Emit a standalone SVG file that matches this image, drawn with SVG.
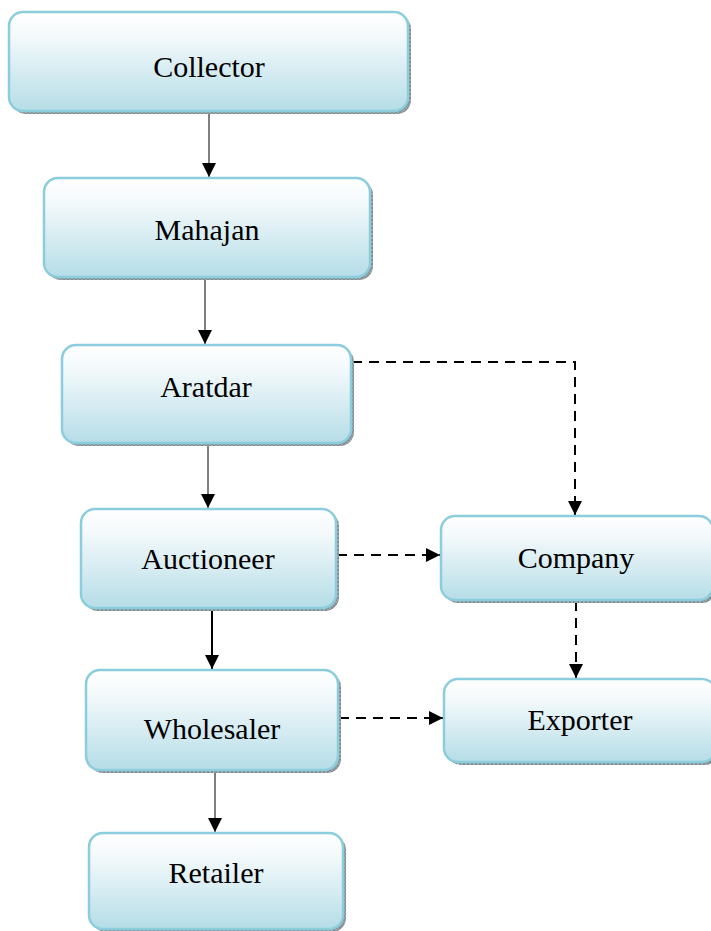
<svg xmlns="http://www.w3.org/2000/svg" width="711" height="931" viewBox="0 0 711 931">
  <defs>
    <linearGradient id="boxFill" x1="0" y1="0" x2="0" y2="1">
      <stop offset="0" stop-color="#ffffff"/>
      <stop offset="0.25" stop-color="#f3f9fb"/>
      <stop offset="1" stop-color="#b5dde7"/>
    </linearGradient>
    <pattern id="hatch" width="4" height="4" patternUnits="userSpaceOnUse">
      <rect width="4" height="4" fill="#9aa6aa"/>
      <path d="M0 0L4 4M4 0L0 4" stroke="#6f7b80" stroke-width="0.6"/>
    </pattern>
    <marker id="head" viewBox="0 0 10 10" refX="10" refY="5" markerWidth="14" markerHeight="14" markerUnits="userSpaceOnUse" orient="auto">
      <path d="M0 0L10 5L0 10z" fill="#000"/>
    </marker>
  </defs>
  <style>
    .shadow { fill: url(#hatch); }
    .box { fill: url(#boxFill); stroke: #8ccddd; stroke-width: 2.5; }
    .label { font-family: "Liberation Serif", "Times New Roman", serif; font-size: 30px; fill: #000; text-anchor: middle; }
    .solid { stroke: #000; stroke-width: 1; fill: none; marker-end: url(#head); }
    .thick { stroke: #000; stroke-width: 2; fill: none; marker-end: url(#head); }
    .dashed { stroke: #000; stroke-width: 2; fill: none; stroke-dasharray: 10 7; marker-end: url(#head); }
  </style>

  <!-- connectors -->
  <g id="connectors">
    <line class="solid" x1="209" y1="112" x2="209" y2="177"/>
    <line class="solid" x1="205" y1="278" x2="205" y2="344"/>
    <line class="solid" x1="208" y1="444" x2="208" y2="508"/>
    <line class="thick" x1="212" y1="609" x2="212" y2="669"/>
    <line class="solid" x1="215" y1="771" x2="215" y2="832"/>
    <polyline class="dashed" points="352,362 575,362 575,515"/>
    <line class="dashed" x1="337" y1="555" x2="440" y2="555"/>
    <line class="dashed" x1="576" y1="601" x2="576" y2="678"/>
    <line class="dashed" x1="339" y1="718" x2="443" y2="718"/>
  </g>

  <g id="collector">
    <rect class="shadow" x="12" y="15" width="399" height="99" rx="14"/>
    <rect class="box" x="9" y="12" width="399" height="99" rx="14"/>
    <text class="label" x="209" y="77">Collector</text>
  </g>

  <g id="mahajan">
    <rect class="shadow" x="47" y="181" width="326" height="99" rx="14"/>
    <rect class="box" x="44" y="178" width="326" height="99" rx="14"/>
    <text class="label" x="207" y="240">Mahajan</text>
  </g>

  <g id="aratdar">
    <rect class="shadow" x="65" y="348" width="289" height="98" rx="14"/>
    <rect class="box" x="62" y="345" width="289" height="98" rx="14"/>
    <text class="label" x="206" y="397">Aratdar</text>
  </g>

  <g id="auctioneer">
    <rect class="shadow" x="84" y="512" width="255" height="99" rx="14"/>
    <rect class="box" x="81" y="509" width="255" height="99" rx="14"/>
    <text class="label" x="208" y="569">Auctioneer</text>
  </g>

  <g id="company">
    <rect class="shadow" x="444" y="519" width="272" height="84" rx="14"/>
    <rect class="box" x="441" y="516" width="272" height="84" rx="14"/>
    <text class="label" x="576" y="568">Company</text>
  </g>

  <g id="wholesaler">
    <rect class="shadow" x="89" y="673" width="252" height="100" rx="14"/>
    <rect class="box" x="86" y="670" width="252" height="100" rx="14"/>
    <text class="label" x="212" y="739">Wholesaler</text>
  </g>

  <g id="exporter">
    <rect class="shadow" x="447" y="682" width="272" height="83" rx="14"/>
    <rect class="box" x="444" y="679" width="272" height="83" rx="14"/>
    <text class="label" x="580" y="730">Exporter</text>
  </g>

  <g id="retailer">
    <rect class="shadow" x="92" y="836" width="254" height="96" rx="14"/>
    <rect class="box" x="89" y="833" width="254" height="96" rx="14"/>
    <text class="label" x="216" y="883">Retailer</text>
  </g>
</svg>
